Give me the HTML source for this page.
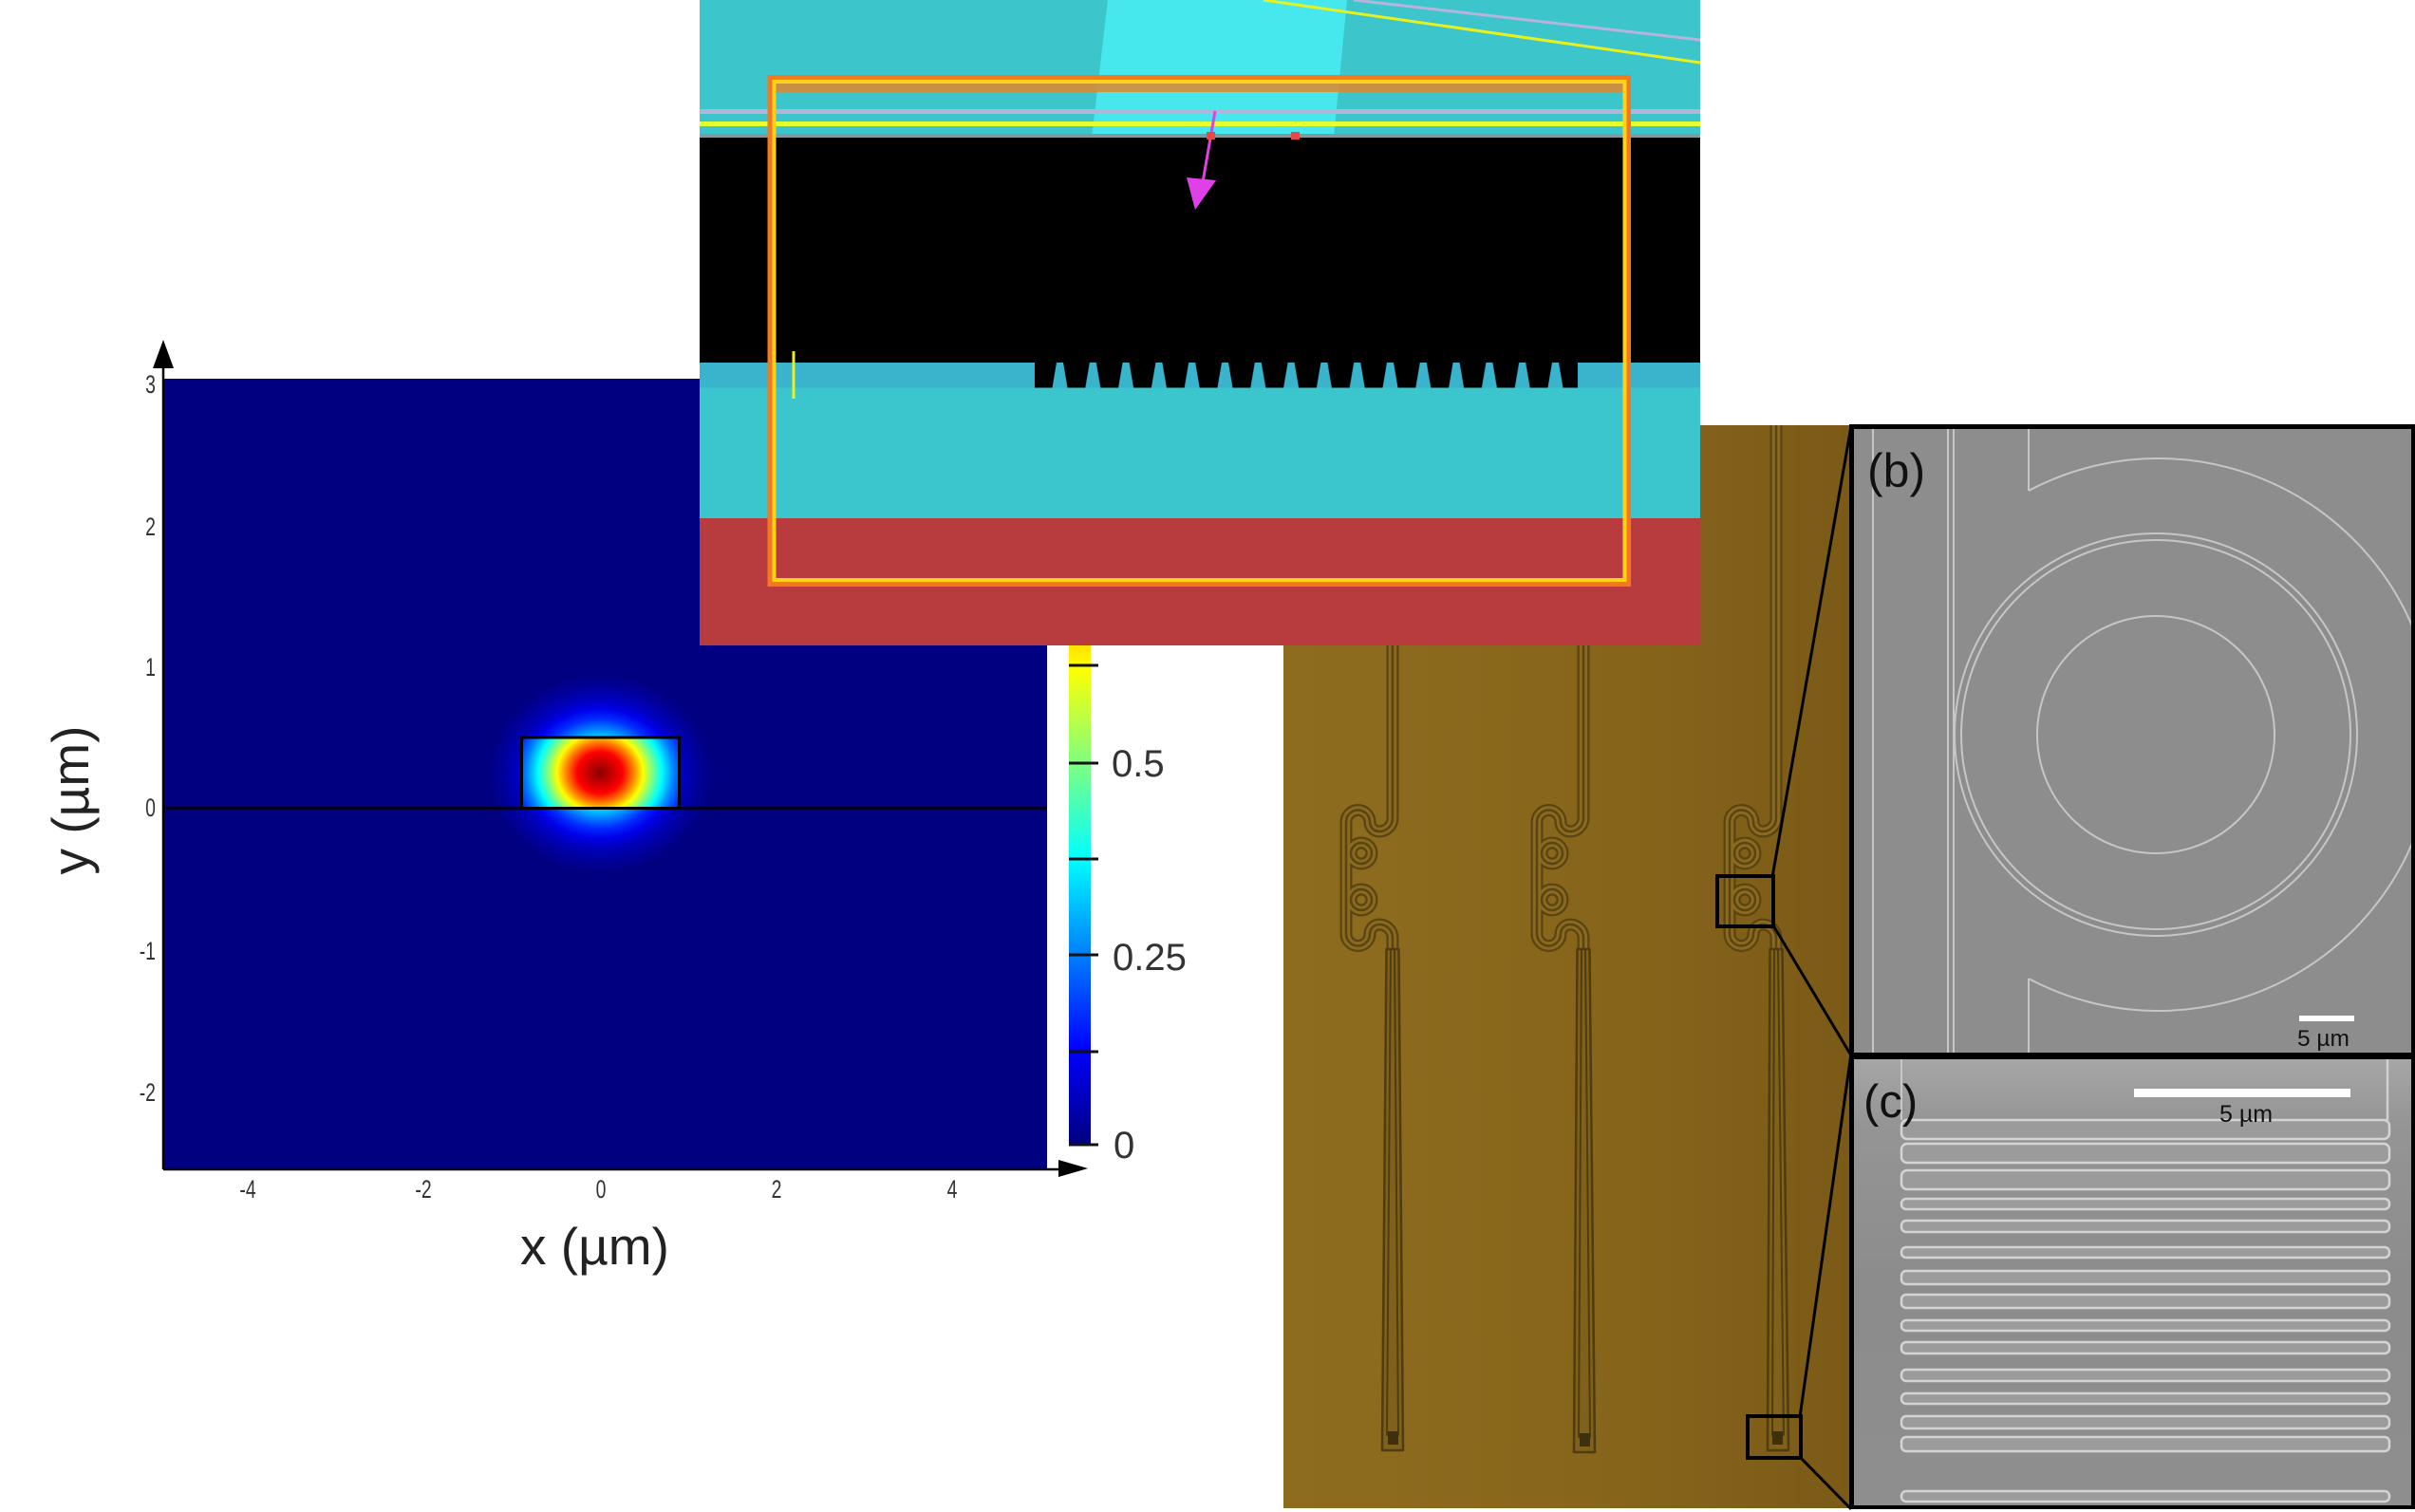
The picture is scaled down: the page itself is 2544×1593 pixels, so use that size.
<!DOCTYPE html>
<html>
<head>
<meta charset="utf-8">
<style>
html,body{margin:0;padding:0;background:#ffffff;}
svg{display:block;}
text{font-family:"Liberation Sans",Arial,sans-serif;}
</style>
</head>
<body>
<svg width="2544" height="1593" viewBox="0 0 2544 1593" xmlns="http://www.w3.org/2000/svg">
<defs>
  <radialGradient id="modeIn" cx="50%" cy="50%" r="50%">
    <stop offset="0" stop-color="#8a0000"/>
    <stop offset="0.183" stop-color="#ff0000"/>
    <stop offset="0.268" stop-color="#ff8000"/>
    <stop offset="0.343" stop-color="#ffff00"/>
    <stop offset="0.416" stop-color="#80ff80"/>
    <stop offset="0.495" stop-color="#00ffff"/>
    <stop offset="0.589" stop-color="#0080ff"/>
    <stop offset="0.721" stop-color="#0000ff"/>
    <stop offset="0.83" stop-color="#0000bf"/>
    <stop offset="1" stop-color="#000080"/>
  </radialGradient>
  <radialGradient id="modeOut" cx="50%" cy="50%" r="50%">
    <stop offset="0" stop-color="#bdff42"/>
    <stop offset="0.15" stop-color="#8cff73"/>
    <stop offset="0.25" stop-color="#3dffc2"/>
    <stop offset="0.35" stop-color="#00deff"/>
    <stop offset="0.45" stop-color="#0080ff"/>
    <stop offset="0.55" stop-color="#002bff"/>
    <stop offset="0.65" stop-color="#0000e9"/>
    <stop offset="0.75" stop-color="#0000bc"/>
    <stop offset="0.88" stop-color="#000099"/>
    <stop offset="1" stop-color="#000080"/>
  </radialGradient>
  <clipPath id="wgClip"><rect x="549" y="777" width="167" height="75"/></clipPath>
  <linearGradient id="jet" gradientUnits="userSpaceOnUse" x1="0" y1="402" x2="0" y2="1206">
    <stop offset="0" stop-color="#800000"/>
    <stop offset="0.125" stop-color="#ff0000"/>
    <stop offset="0.375" stop-color="#ffff00"/>
    <stop offset="0.625" stop-color="#00ffff"/>
    <stop offset="0.875" stop-color="#0000ff"/>
    <stop offset="1" stop-color="#000080"/>
  </linearGradient>
  <linearGradient id="brown" gradientUnits="userSpaceOnUse" x1="1352" y1="0" x2="1948" y2="0">
    <stop offset="0" stop-color="#8e6c1f"/>
    <stop offset="0.6" stop-color="#86651b"/>
    <stop offset="1" stop-color="#7b5a17"/>
  </linearGradient>
  <linearGradient id="semC" gradientUnits="userSpaceOnUse" x1="0" y1="1116" x2="0" y2="1586">
    <stop offset="0" stop-color="#a6a6a6"/>
    <stop offset="0.14" stop-color="#959595"/>
    <stop offset="0.5" stop-color="#8c8c8c"/>
    <stop offset="1" stop-color="#8e8e8e"/>
  </linearGradient>
  <pattern id="grat" patternUnits="userSpaceOnUse" x="1099.1" y="382" width="34.8" height="27">
    <rect width="34.8" height="27" fill="#000"/>
    <polygon points="13.9,0 20.9,0 25.4,26.5 9.4,26.5" fill="#3ab4cc"/>
  </pattern>
  <clipPath id="clipB"><rect x="1953" y="452" width="587" height="657"/></clipPath>
  <clipPath id="clipC"><rect x="1953" y="1116" width="587" height="470"/></clipPath>
</defs>

<!-- background -->
<rect x="0" y="0" width="2544" height="1593" fill="#ffffff"/>

<!-- ===== Left mode plot ===== -->
<rect x="172" y="399" width="931" height="833" fill="#000080"/>
<ellipse cx="632" cy="815" rx="118" ry="105" fill="url(#modeOut)"/>
<ellipse cx="632" cy="814" rx="132" ry="120" fill="url(#modeIn)" clip-path="url(#wgClip)"/>
<line x1="172" y1="851.5" x2="1103" y2="851.5" stroke="#000" stroke-width="2.5"/>
<rect x="549.5" y="777" width="166" height="74.5" fill="none" stroke="#000" stroke-width="3"/>
<!-- axes -->
<line x1="172" y1="385" x2="172" y2="1232" stroke="#000" stroke-width="2.5"/>
<polygon points="172,358 161,388 183,388" fill="#000"/>
<line x1="172" y1="1232" x2="1118" y2="1232" stroke="#000" stroke-width="2.5"/>
<polygon points="1146,1231 1115,1222 1115,1240" fill="#000"/>

<!-- y tick labels -->
<g fill="#333" font-size="27">
  <text transform="translate(164,414) scale(0.72,1)" text-anchor="end">3</text>
  <text transform="translate(164,564) scale(0.72,1)" text-anchor="end">2</text>
  <text transform="translate(164,712) scale(0.72,1)" text-anchor="end">1</text>
  <text transform="translate(164,860) scale(0.72,1)" text-anchor="end">0</text>
  <text transform="translate(164,1011) scale(0.72,1)" text-anchor="end">-1</text>
  <text transform="translate(164,1160) scale(0.72,1)" text-anchor="end">-2</text>
</g>
<!-- x tick labels -->
<g fill="#333" font-size="27" text-anchor="middle">
  <text transform="translate(261,1262) scale(0.72,1)">-4</text>
  <text transform="translate(446,1262) scale(0.72,1)">-2</text>
  <text transform="translate(633,1262) scale(0.72,1)">0</text>
  <text transform="translate(818,1262) scale(0.72,1)">2</text>
  <text transform="translate(1003,1262) scale(0.72,1)">4</text>
</g>
<text x="548" y="1332" font-size="55" fill="#222">x (µm)</text>
<text transform="translate(93,843) rotate(-90)" text-anchor="middle" font-size="55" fill="#222">y (µm)</text>

<!-- colorbar -->
<rect x="1126" y="402" width="23" height="804" fill="url(#jet)"/>
<g stroke="#111" stroke-width="3">
  <line x1="1126" y1="701" x2="1157" y2="701"/>
  <line x1="1126" y1="804" x2="1157" y2="804"/>
  <line x1="1126" y1="905" x2="1157" y2="905"/>
  <line x1="1126" y1="1006" x2="1157" y2="1006"/>
  <line x1="1126" y1="1108" x2="1157" y2="1108"/>
  <line x1="1126" y1="1206" x2="1157" y2="1206"/>
</g>
<g fill="#333" font-size="40">
  <text x="1171" y="818">0.5</text>
  <text x="1172" y="1022">0.25</text>
  <text x="1173" y="1220">0</text>
</g>

<!-- ===== Microscope image ===== -->
<rect x="1352" y="448" width="596" height="1141" fill="url(#brown)"/>

<!-- structures -->
<g fill="none" stroke-linejoin="round">
  <g stroke="#5a4412" stroke-width="13">
    <path d="M1467,680 L1467,862 A14,14 0 0 1 1453,876 A10,10 0 0 1 1443,866 A12.5,12.5 0 0 0 1418,866 L1418,984 A12.5,12.5 0 0 0 1443,984 A10,10 0 0 1 1453,974 A14,14 0 0 1 1467,988 L1467,1003"/>
    <path d="M1668,680 L1668,862 A14,14 0 0 1 1654,876 A10,10 0 0 1 1644,866 A12.5,12.5 0 0 0 1619,866 L1619,984 A12.5,12.5 0 0 0 1644,984 A10,10 0 0 1 1654,974 A14,14 0 0 1 1668,988 L1668,1003"/>
    <path d="M1871,448 L1871,862 A14,14 0 0 1 1857,876 A10,10 0 0 1 1847,866 A12.5,12.5 0 0 0 1822,866 L1822,984 A12.5,12.5 0 0 0 1847,984 A10,10 0 0 1 1857,974 A14,14 0 0 1 1871,988 L1871,1003"/>
    <circle cx="1434" cy="899" r="11"/><circle cx="1434" cy="948" r="11"/>
    <circle cx="1635" cy="899" r="11"/><circle cx="1635" cy="948" r="11"/>
    <circle cx="1838" cy="899" r="11"/><circle cx="1838" cy="948" r="11"/>
  </g>
  <g stroke="#8a6920" stroke-width="8.5">
    <path d="M1467,680 L1467,862 A14,14 0 0 1 1453,876 A10,10 0 0 1 1443,866 A12.5,12.5 0 0 0 1418,866 L1418,984 A12.5,12.5 0 0 0 1443,984 A10,10 0 0 1 1453,974 A14,14 0 0 1 1467,988 L1467,1003"/>
    <path d="M1668,680 L1668,862 A14,14 0 0 1 1654,876 A10,10 0 0 1 1644,866 A12.5,12.5 0 0 0 1619,866 L1619,984 A12.5,12.5 0 0 0 1644,984 A10,10 0 0 1 1654,974 A14,14 0 0 1 1668,988 L1668,1003"/>
    <path d="M1871,448 L1871,862 A14,14 0 0 1 1857,876 A10,10 0 0 1 1847,866 A12.5,12.5 0 0 0 1822,866 L1822,984 A12.5,12.5 0 0 0 1847,984 A10,10 0 0 1 1857,974 A14,14 0 0 1 1871,988 L1871,1003"/>
    <circle cx="1434" cy="899" r="11"/><circle cx="1434" cy="948" r="11"/>
    <circle cx="1635" cy="899" r="11"/><circle cx="1635" cy="948" r="11"/>
    <circle cx="1838" cy="899" r="11"/><circle cx="1838" cy="948" r="11"/>
  </g>
  <g stroke="#5a4412" stroke-width="2.5">
    <path d="M1467,680 L1467,862 A14,14 0 0 1 1453,876 A10,10 0 0 1 1443,866 A12.5,12.5 0 0 0 1418,866 L1418,984 A12.5,12.5 0 0 0 1443,984 A10,10 0 0 1 1453,974 A14,14 0 0 1 1467,988 L1467,1003"/>
    <path d="M1668,680 L1668,862 A14,14 0 0 1 1654,876 A10,10 0 0 1 1644,866 A12.5,12.5 0 0 0 1619,866 L1619,984 A12.5,12.5 0 0 0 1644,984 A10,10 0 0 1 1654,974 A14,14 0 0 1 1668,988 L1668,1003"/>
    <path d="M1871,448 L1871,862 A14,14 0 0 1 1857,876 A10,10 0 0 1 1847,866 A12.5,12.5 0 0 0 1822,866 L1822,984 A12.5,12.5 0 0 0 1847,984 A10,10 0 0 1 1857,974 A14,14 0 0 1 1871,988 L1871,1003"/>
    <circle cx="1434" cy="899" r="11"/><circle cx="1434" cy="948" r="11"/>
    <circle cx="1635" cy="899" r="11"/><circle cx="1635" cy="948" r="11"/>
    <circle cx="1838" cy="899" r="11"/><circle cx="1838" cy="948" r="11"/>
  </g>
  <g stroke="#4f3c10" stroke-width="2.5" fill="#80611b">
    <polygon points="1460.5,1000 1456,1528 1478,1528 1473.5,1000"/>
    <polygon points="1661.5,1000 1658,1530 1680,1530 1674.5,1000"/>
    <polygon points="1864.5,1000 1862,1528 1884,1528 1877.5,1000"/>
  </g>
  <g stroke="#4f3c10" stroke-width="2">
    <polygon points="1465,1000 1461,1512 1473,1512 1469,1000"/>
    <polygon points="1666,1000 1663,1514 1675,1514 1670,1000"/>
    <polygon points="1869,1000 1867,1512 1879,1512 1873,1000"/>
  </g>
</g>
<g fill="#3f300c">
  <rect x="1462" y="1508" width="11" height="14"/>
  <rect x="1664" y="1510" width="11" height="14"/>
  <rect x="1867" y="1508" width="11" height="14"/>
</g>

<!-- zoom boxes and lines -->
<g fill="none" stroke="#000" stroke-width="4">
  <rect x="1809" y="923" width="59" height="53"/>
  <rect x="1841" y="1492" width="56" height="44"/>
</g>
<g stroke="#000" stroke-width="3">
  <line x1="1867" y1="924" x2="1950" y2="449"/>
  <line x1="1868" y1="975" x2="1950" y2="1112"/>
  <line x1="1896" y1="1493" x2="1950" y2="1110"/>
  <line x1="1896" y1="1535" x2="1950" y2="1590"/>
</g>

<!-- ===== SEM panels ===== -->
<rect x="1948" y="447" width="596" height="1143" fill="#000"/>
<!-- (b) -->
<rect x="1953" y="452" width="587" height="657" fill="#8d8d8d"/>
<g clip-path="url(#clipB)" fill="none" stroke="#c6c6c6" stroke-width="2">
  <line x1="1973" y1="452" x2="1973" y2="1109"/>
  <line x1="2052" y1="452" x2="2052" y2="1109"/>
  <line x1="2058" y1="452" x2="2058" y2="1109"/>
  <line x1="2137" y1="452" x2="2137" y2="517"/>
  <line x1="2137" y1="1031" x2="2137" y2="1109"/>
  <path d="M2137,517 A291,291 0 1 1 2137,1031"/>
  <circle cx="2271" cy="774" r="212"/>
  <circle cx="2271" cy="774" r="205"/>
  <circle cx="2271" cy="774" r="125"/>
</g>
<text x="1967" y="513" font-size="50" fill="#111">(b)</text>
<rect x="2422" y="1070" width="58" height="6" fill="#fff"/>
<text x="2420" y="1102" font-size="24.5" fill="#111">5 µm</text>

<!-- (c) -->
<rect x="1953" y="1116" width="587" height="470" fill="url(#semC)"/>
<g clip-path="url(#clipC)">
  <line x1="2003" y1="1116" x2="2003" y2="1180" stroke="#c8c8c8" stroke-width="2"/>
  <line x1="2515" y1="1116" x2="2515" y2="1180" stroke="#d0d0d0" stroke-width="2.5"/>
  <g fill="#9b9b9b" stroke="#d4d4d4" stroke-width="2.5">
    <rect x="2003" y="1180" width="514" height="20" rx="6"/>
    <rect x="2003" y="1205" width="514" height="20" rx="6"/>
    <rect x="2003" y="1233" width="514" height="20" rx="6"/>
    <rect x="2003" y="1263" width="514" height="11" rx="5"/>
    <rect x="2003" y="1286" width="514" height="12" rx="5"/>
    <rect x="2003" y="1314" width="514" height="11" rx="5"/>
    <rect x="2003" y="1339" width="514" height="14" rx="5"/>
    <rect x="2003" y="1364" width="514" height="14" rx="5"/>
    <rect x="2003" y="1391" width="514" height="11" rx="5"/>
    <rect x="2003" y="1414" width="514" height="12" rx="5"/>
    <rect x="2003" y="1443" width="514" height="12" rx="5"/>
    <rect x="2003" y="1468" width="514" height="11" rx="5"/>
    <rect x="2003" y="1492" width="514" height="13" rx="5"/>
    <rect x="2003" y="1514" width="514" height="15" rx="5"/>
    <rect x="2003" y="1571" width="514" height="11" rx="5"/>
  </g>
</g>
<text x="1963" y="1177" font-size="49" fill="#111">(c)</text>
<rect x="2248" y="1147" width="228" height="9" fill="#fff"/>
<text x="2338" y="1182" font-size="25" fill="#111">5 µm</text>

<!-- ===== Top simulation overlay ===== -->
<g>
  <rect x="737" y="0" width="1054" height="145" fill="#3cc6cc"/>
  <polygon points="1167,0 1419,0 1405,145 1150,145" fill="#46e8ee"/>
  <line x1="1331" y1="0" x2="1791" y2="66" stroke="#e8f020" stroke-width="3"/>
  <line x1="1426" y1="0" x2="1791" y2="42" stroke="#b4b4dc" stroke-width="3"/>
  <rect x="815" y="88" width="898" height="9" fill="#e0862a" opacity="0.85"/>
  <rect x="737" y="115" width="1054" height="5" fill="#b2b4d8"/>
  <rect x="737" y="128" width="1054" height="5" fill="#e6ff2e"/>
  <rect x="737" y="141" width="1054" height="4" fill="#7f9aa0"/>
  <rect x="737" y="145" width="1054" height="237" fill="#000"/>
  <rect x="737" y="382" width="1054" height="26.5" fill="#3ab4cc"/>
  <rect x="737" y="408.5" width="1054" height="137.5" fill="#3ac6cc"/>
  <rect x="737" y="546" width="1054" height="134" fill="#b83c3e"/>
  <rect x="1090" y="382" width="572" height="26.5" fill="#000"/>
  <rect x="1099.1" y="382" width="556.8" height="26.5" fill="url(#grat)"/>
  <rect x="811" y="81.5" width="904.5" height="534" fill="none" stroke="#f4781e" stroke-width="5"/>
  <rect x="815.5" y="86" width="896" height="525" fill="none" stroke="#ffd21a" stroke-width="4"/>
  <line x1="1280" y1="117" x2="1267" y2="192" stroke="#e43ee2" stroke-width="3"/>
  <polygon points="1250,187 1281,190 1259,221" fill="#e040e8"/>
  <rect x="1271" y="139" width="9" height="8" fill="#e84848"/>
  <rect x="1360" y="139" width="9" height="8" fill="#e84848"/>
  <line x1="836" y1="370" x2="836" y2="420" stroke="#e8f020" stroke-width="3"/>
</g>
</svg>
</body>
</html>
